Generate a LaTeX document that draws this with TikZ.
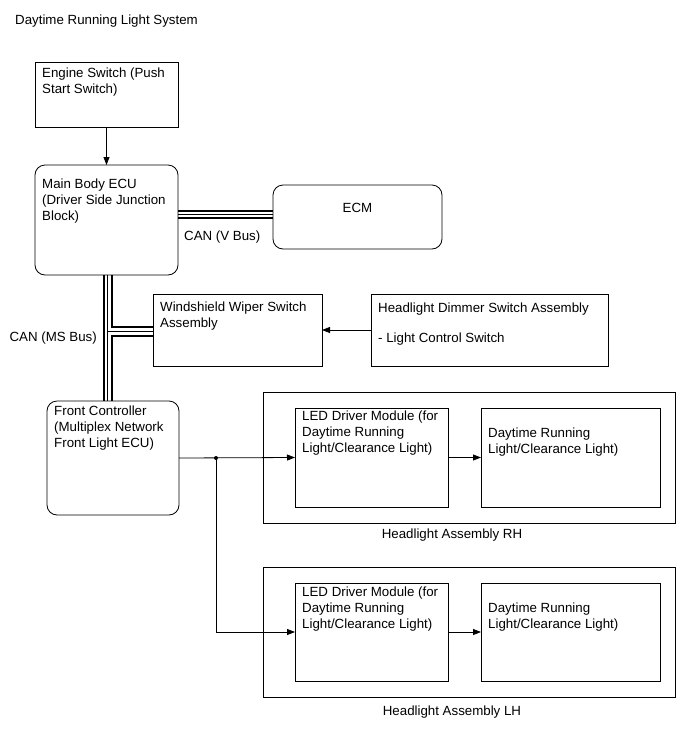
\documentclass[tikz,border=0pt]{standalone}
\usepackage{fontspec}
\setmainfont{Liberation Sans}
\usetikzlibrary{arrows.meta}
\begin{document}
\begin{tikzpicture}[x=1pt,y=-1pt,
  box/.style={draw=black, line width=0.8pt, anchor=north west, inner sep=0pt, outer sep=0pt},
  rbox/.style={box, rounded corners=10pt},
  txt/.style={anchor=north west, inner sep=0pt, align=left, font=\fontsize{13.3}{16}\selectfont},
  arr/.style={line width=0.8pt, -{Triangle[length=8pt,width=6pt]}},
  bus/.style={line width=2pt},
  busm/.style={line width=1.5pt}]
\useasboundingbox (0,0) rectangle (689,756);
\fill[white] (0,0) rectangle (689,756);

\node[txt] (title) at (15,15) {Daytime Running Light System};

% boxes
\node[box, minimum width=143pt, minimum height=65pt] (eng) at (35,62) {};
\node[rbox, minimum width=143pt, minimum height=110pt] (ecu) at (35,165) {};
\node[rbox, minimum width=169pt, minimum height=64pt] (ecm) at (273,185) {};
\node[box, minimum width=169pt, minimum height=72pt] (wsw) at (153,294) {};
\node[box, minimum width=237pt, minimum height=72pt] (dim) at (371,294) {};
\node[rbox, minimum width=132pt, minimum height=114pt] (fc) at (47,401) {};
\node[box, minimum width=412pt, minimum height=131pt] (rh) at (263,392) {};
\node[box, minimum width=153pt, minimum height=99pt] (ledr) at (295,408) {};
\node[box, minimum width=179pt, minimum height=99pt] (drlr) at (481,408) {};
\node[box, minimum width=412pt, minimum height=130pt] (lh) at (263,567) {};
\node[box, minimum width=153pt, minimum height=98pt] (ledl) at (295,583) {};
\node[box, minimum width=179pt, minimum height=98pt] (drll) at (481,583) {};

% texts
\node[txt] (tEng) at (42,68) {Engine Switch (Push\\Start Switch)};
\node[txt] (tEcu) at (42,179) {Main Body ECU\\(Driver Side Junction\\Block)};
\node[inner sep=0pt, font=\fontsize{13.3}{16}\selectfont] (tEcm) at (357.5,208) {ECM};
\node[txt] (tV) at (184,231) {CAN (V Bus)};
\node[txt, anchor=north east] (tMS) at (97,332) {CAN (MS Bus)};
\node[txt] (tWsw) at (160,302) {Windshield Wiper Switch\\Assembly};
\node[txt] (tDim) at (378,303) {Headlight Dimmer Switch Assembly\\[14pt]- Light Control Switch};
\node[txt] (tFc) at (54,406) {Front Controller\\(Multiplex Network\\Front Light ECU)};
\node[txt] (tLedr) at (302,411) {LED Driver Module (for\\Daytime Running\\Light/Clearance Light)};
\node[txt] (tDrlr) at (488,428) {Daytime Running\\Light/Clearance Light)};
\node[inner sep=0pt, font=\fontsize{13.3}{16}\selectfont] (tRh) at (452,535) {Headlight Assembly RH};
\node[txt] (tLedl) at (302,587) {LED Driver Module (for\\Daytime Running\\Light/Clearance Light)};
\node[txt] (tDrll) at (488,603) {Daytime Running\\Light/Clearance Light)};
\node[inner sep=0pt, font=\fontsize{13.3}{16}\selectfont] (tLh) at (452,712) {Headlight Assembly LH};

% connectors
\draw[arr] (eng.south) -- (ecu.north);

% CAN V bus
\draw[bus] (ecu.east |- 0,210.8) -- (ecm.west |- 0,210.8);
\draw[busm] (ecu.east |- 0,214.5) -- (ecm.west |- 0,214.5);
\draw[busm] (ecu.east |- 0,218.2) -- (ecm.west |- 0,218.2);

% CAN MS bus
\draw[bus] (ecu.south -| 103.5,0) -- (fc.north -| 103.5,0);
\draw[busm] (ecu.south -| 107.5,0) -- (fc.north -| 107.5,0);
\draw[bus] (ecu.south -| 111.5,0) -- (111.5,327) -- (wsw.west |- 0,327);
\draw[bus] (wsw.west |- 0,336) -- (111.5,336) -- (fc.north -| 111.5,0);
\draw[line width=1pt] (107.5,331.5) -- (wsw.west |- 0,331.5);

\draw[arr] (dim.west) -- (wsw.east);

\coordinate (j) at (fc.east -| 216,0);
\draw[arr] (fc.east) -- (ledr.west);
\fill (j) circle (2pt);
\draw[arr] (j) |- (ledl.west);
\draw[arr] (ledr.east) -- (drlr.west);
\draw[arr] (ledl.east) -- (drll.west);
\end{tikzpicture}
\end{document}
